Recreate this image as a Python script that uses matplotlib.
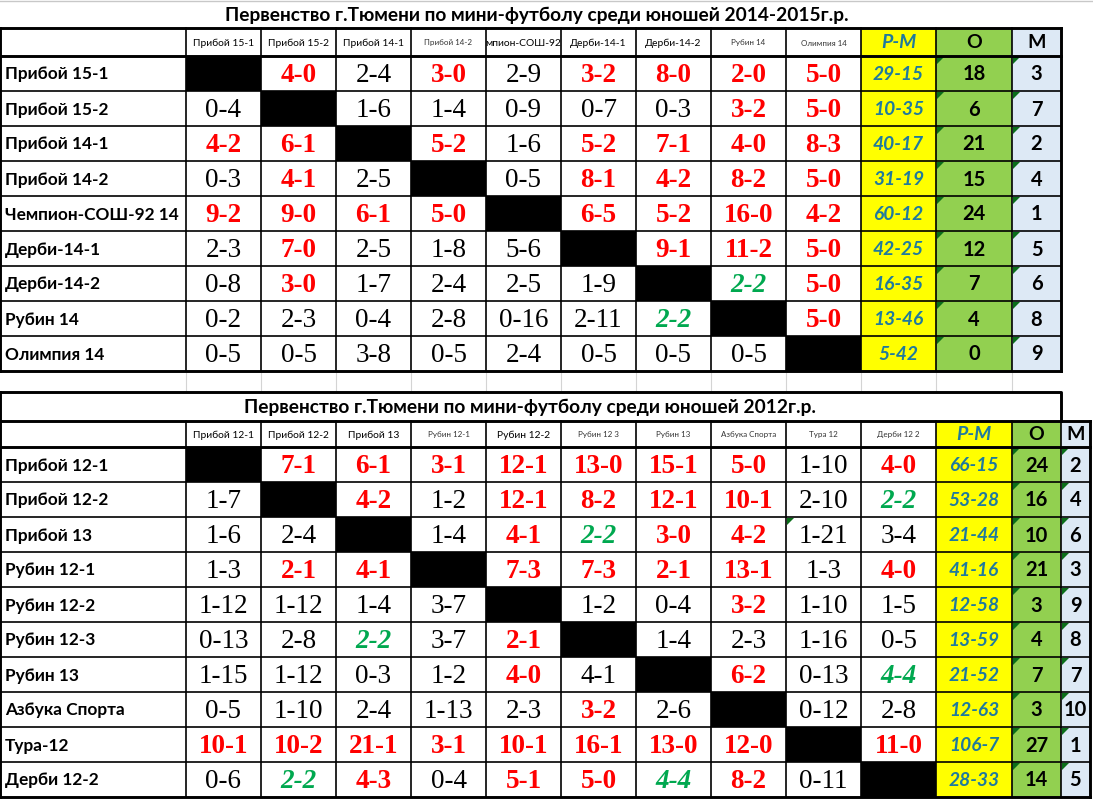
import matplotlib.pyplot as plt
from matplotlib.patches import Rectangle, Polygon

# ---- data: table 1 (2014-2015) ----
title_1 = 'Первенство г.Тюмени по мини-футболу среди юношей 2014-2015г.р.'
teams_1 = ['Прибой 15-1', 'Прибой 15-2', 'Прибой 14-1', 'Прибой 14-2', 'Чемпион-СОШ-92 14',
           'Дерби-14-1', 'Дерби-14-2', 'Рубин 14', 'Олимпия 14']
heads_1 = ['Прибой 15-1', 'Прибой 15-2', 'Прибой 14-1', 'Прибой 14-2', 'мпион-СОШ-92',
           'Дерби-14-1', 'Дерби-14-2', 'Рубин 14', 'Олимпия 14']
tiny_1 = [3, 7, 8]
scores_1 = [
    ['', '4-0', '2-4', '3-0', '2-9', '3-2', '8-0', '2-0', '5-0'],
    ['0-4', '', '1-6', '1-4', '0-9', '0-7', '0-3', '3-2', '5-0'],
    ['4-2', '6-1', '', '5-2', '1-6', '5-2', '7-1', '4-0', '8-3'],
    ['0-3', '4-1', '2-5', '', '0-5', '8-1', '4-2', '8-2', '5-0'],
    ['9-2', '9-0', '6-1', '5-0', '', '6-5', '5-2', '16-0', '4-2'],
    ['2-3', '7-0', '2-5', '1-8', '5-6', '', '9-1', '11-2', '5-0'],
    ['0-8', '3-0', '1-7', '2-4', '2-5', '1-9', '', '2-2', '5-0'],
    ['0-2', '2-3', '0-4', '2-8', '0-16', '2-11', '2-2', '', '5-0'],
    ['0-5', '0-5', '3-8', '0-5', '2-4', '0-5', '0-5', '0-5', ''],
]
rm_1 = ['29-15', '10-35', '40-17', '31-19', '60-12', '42-25', '16-35', '13-46', '5-42']
pts_1 = [18, 6, 21, 15, 24, 12, 7, 4, 0]
place_1 = [3, 7, 2, 4, 1, 5, 6, 8, 9]

# ---- data: table 2 (2012) ----
title_2 = 'Первенство г.Тюмени по мини-футболу среди юношей 2012г.р.'
teams_2 = ['Прибой 12-1', 'Прибой 12-2', 'Прибой 13', 'Рубин 12-1', 'Рубин 12-2',
           'Рубин 12-3', 'Рубин 13', 'Азбука Спорта', 'Тура-12', 'Дерби 12-2']
heads_2 = ['Прибой 12-1', 'Прибой 12-2', 'Прибой 13', 'Рубин 12-1', 'Рубин 12-2',
           'Рубин 12 3', 'Рубин 13', 'Азбука Спорта', 'Тура 12', 'Дерби 12 2']
tiny_2 = [3, 5, 6, 7, 8, 9]
scores_2 = [
    ['', '7-1', '6-1', '3-1', '12-1', '13-0', '15-1', '5-0', '1-10', '4-0'],
    ['1-7', '', '4-2', '1-2', '12-1', '8-2', '12-1', '10-1', '2-10', '2-2'],
    ['1-6', '2-4', '', '1-4', '4-1', '2-2', '3-0', '4-2', '1-21', '3-4'],
    ['1-3', '2-1', '4-1', '', '7-3', '7-3', '2-1', '13-1', '1-3', '4-0'],
    ['1-12', '1-12', '1-4', '3-7', '', '1-2', '0-4', '3-2', '1-10', '1-5'],
    ['0-13', '2-8', '2-2', '3-7', '2-1', '', '1-4', '2-3', '1-16', '0-5'],
    ['1-15', '1-12', '0-3', '1-2', '4-0', '4-1', '', '6-2', '0-13', '4-4'],
    ['0-5', '1-10', '2-4', '1-13', '2-3', '3-2', '2-6', '', '0-12', '2-8'],
    ['10-1', '10-2', '21-1', '3-1', '10-1', '16-1', '13-0', '12-0', '', '11-0'],
    ['0-6', '2-2', '4-3', '0-4', '5-1', '5-0', '4-4', '8-2', '0-11', ''],
]
plain_2 = [(6, 5)]          # score written without highlight
marked_2 = [(2, 8)]         # cell with excel comment mark
rm_2 = ['66-15', '53-28', '21-44', '41-16', '12-58', '13-59', '21-52', '12-63', '106-7', '28-33']
pts_2 = [24, 16, 10, 21, 3, 4, 7, 3, 27, 14]
place_2 = [2, 4, 6, 3, 9, 8, 7, 10, 1, 5]

# ---- styling ----
RED, GREEN, TEAL = '#ff0000', '#00a84f', '#1f7a9e'
YELLOW, LGREEN, LBLUE = '#ffff00', '#92d050', '#dde9f5'
MARK = '#0b6e1a'
SANS = ['Lato', 'DejaVu Sans']
SERIF = ['Liberation Serif', 'DejaVu Serif']

fig = plt.figure(figsize=(10.93, 7.99), dpi=100)
ax = fig.add_axes([0, 0, 1, 1])
ax.set_xlim(0, 1093)
ax.set_ylim(799, 0)
ax.axis('off')

ROW_H = 35


def score_style(s, plain):
    a, b = [int(v) for v in s.split('-')]
    if plain or a < b:
        return dict(color='black', fontweight='normal', fontstyle='normal')
    if a > b:
        return dict(color=RED, fontweight='bold', fontstyle='normal')
    return dict(color=GREEN, fontweight='bold', fontstyle='italic')


def mark(x, y):
    ax.add_patch(Polygon([(x + 1, y + 1), (x + 8, y + 1), (x + 1, y + 8)],
                         closed=True, color=MARK, lw=0, zorder=3))


def draw_table(y_title, y_head, y_rows, xs, title, title_cx, teams, heads, tiny,
               scores, rm, pts, place, plain=(), marked=()):
    n = len(teams)
    nt = len(heads)
    y_end = y_rows + n * ROW_H
    fills = [YELLOW, LGREEN, LBLUE]
    # coloured summary columns
    for k in range(3):
        x0, x1 = xs[nt + 1 + k], xs[nt + 2 + k]
        ax.add_patch(Rectangle((x0, y_head), x1 - x0, y_end - y_head, color=fills[k], lw=0, zorder=1))
    # black diagonal
    for i in range(n):
        x0, x1 = xs[i + 1], xs[i + 2]
        ax.add_patch(Rectangle((x0, y_rows + i * ROW_H), x1 - x0, ROW_H, color='black', lw=0, zorder=1))

    # title
    ax.text(title_cx, (y_title + y_head) / 2 + 1, title, ha='center', va='center',
            fontsize=13.8, fontweight='bold', family=SANS, zorder=4)

    # header
    yc = (y_head + y_rows) / 2 + 1
    for j, h in enumerate(heads):
        xc = (xs[j + 1] + xs[j + 2]) / 2
        if j in tiny:
            ax.text(xc, yc, h, ha='center', va='center', fontsize=5.8, color='#333333', family=SANS, zorder=4)
        else:
            ax.text(xc, yc, h, ha='center', va='center', fontsize=7.4, family=SANS, zorder=4)
    for k, (lab, col, st) in enumerate([('Р-М', TEAL, 'italic'), ('О', 'black', 'normal'),
                                        ('М', 'black', 'normal')]):
        xc = (xs[nt + 1 + k] + xs[nt + 2 + k]) / 2
        ax.text(xc, yc, lab, ha='center', va='center', fontsize=14, fontweight='bold',
                fontstyle=st, color=col, family=SANS, zorder=4)

    # rows
    for i in range(n):
        y0 = y_rows + i * ROW_H
        ym = y0 + ROW_H / 2 + 1
        ax.text(5, ym, teams[i], ha='left', va='center', fontsize=12.4, fontweight='bold',
                family=SANS, zorder=4)
        for j, s in enumerate(scores[i]):
            if not s:
                continue
            xc = (xs[j + 1] + xs[j + 2]) / 2
            ax.text(xc, ym + 1, s, ha='center', va='center', fontsize=19.5, family=SERIF, zorder=4,
                    **score_style(s, (i, j) in plain))
            if (i, j) in marked:
                mark(xs[j + 1], y0)
        vals = [rm[i], str(pts[i]), str(place[i])]
        for k, v in enumerate(vals):
            xc = (xs[nt + 1 + k] + xs[nt + 2 + k]) / 2
            if k == 0:
                ax.text(xc, ym, v, ha='center', va='center', fontsize=13.8, fontweight='bold',
                        fontstyle='italic', color=TEAL, family=SANS, zorder=4)
            else:
                ax.text(xc, ym, v, ha='center', va='center', fontsize=14.5, fontweight='bold',
                        family=SANS, zorder=4)
                mark(xs[nt + 1 + k], y0)

    # grid
    thin, thick = 1.2, 2.1
    for i in range(1, n):
        ax.plot([0, xs[-1]], [y_rows + i * ROW_H] * 2, color='black', lw=thin, zorder=5)
    for x in xs[1:-1]:
        ax.plot([x, x], [y_head, y_end], color='black', lw=thin, zorder=5)
    ax.plot([xs[-1], xs[-1]], [y_head, y_end], color='black', lw=thick, zorder=5)
    ax.plot([0, 0], [y_head, y_end], color='black', lw=thick, zorder=5)
    ax.plot([0, xs[-1]], [y_head, y_head], color='black', lw=thick, zorder=5)
    ax.plot([0, xs[-1]], [y_rows, y_rows], color='black', lw=thick, zorder=5)
    ax.plot([0, xs[-1]], [y_end, y_end], color='black', lw=thick, zorder=5)


# column edges
team_w = 75
xs_1 = [0] + [186 + team_w * k for k in range(10)] + [936, 1012, 1061]
xs_2 = [0] + [186 + team_w * k for k in range(11)] + [1012, 1061, 1090]

# faint sheet grid
ax.plot([0, 1093], [1, 1], color='#c8c8c8', lw=1.0, zorder=0)
for x in xs_2[1:-2]:
    ax.plot([x, x], [371, 392], color='#d4d4d4', lw=0.8, zorder=0)

draw_table(0, 28, 56, xs_1, title_1, 537, teams_1, heads_1, tiny_1,
           scores_1, rm_1, pts_1, place_1)

# box round the second title
ax.plot([0, 1061, 1061], [392, 392, 421], color='black', lw=2.1, zorder=5)
ax.plot([0, 0], [392, 421], color='black', lw=2.1, zorder=5)
draw_table(392, 421, 447, xs_2, title_2, 530, teams_2, heads_2, tiny_2,
           scores_2, rm_2, pts_2, place_2, plain_2, marked_2)

fig.savefig('out.png', dpi=100)
